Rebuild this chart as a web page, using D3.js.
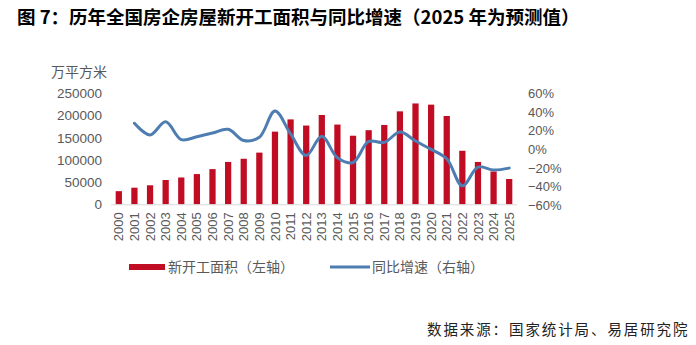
<!DOCTYPE html>
<html><head><meta charset="utf-8">
<script src="https://cdn.jsdelivr.net/npm/d3@7/dist/d3.min.js"></script>
<style>
html,body{margin:0;padding:0;background:#fff;}
svg{display:block;}
</style></head>
<body>
<svg id="chart" width="696" height="345"></svg>
<script>
const years = ["2000","2001","2002","2003","2004","2005","2006","2007","2008","2009","2010","2011","2012","2013","2014","2015","2016","2017","2018","2019","2020","2021","2022","2023","2024","2025"];
const newStarts = [29583,37394,42801,54708,60414,68064,79253,95402,102553,116422,163647,191237,177334,201208,179592,154454,166928,178654,209342,227154,224433,198895,120587,95376,73893,57000];
const growth = [null,28,15.5,29.5,10.5,13.5,17.5,21.5,9.5,13,41,16.5,-6.5,14,-9,-14,8.5,7.5,18.5,9,0,-10,-39,-19,-22,-20];
const leftTicks = [0,50000,100000,150000,200000,250000];
const rightTicks = [-60,-40,-20,0,20,40,60];
const titleText = "图 7：历年全国房企房屋新开工面积与同比增速（2025 年为预测值）";
const unitText = "万平方米";
const legendBar = "新开工面积（左轴）";
const legendLine = "同比增速（右轴）";
const sourceText = "数据来源：国家统计局、易居研究院";

const svg = d3.select("#chart");
const barColor = "#C00D23";
const lineColor = "#4E7DB1";
const textColor = "#595959";
const numFont = "'Liberation Sans', Arial, sans-serif";
const cjkFont = "'Noto Sans CJK SC', sans-serif";

const x = d3.scaleBand().domain(years).range([111, 517]).paddingInner(0.6).paddingOuter(0.3);
const yL = d3.scaleLinear().domain([0, 250000]).range([204.3, 93.3]);
const yR = d3.scaleLinear().domain([-60, 60]).range([205.5, 93.3]);

// title
svg.append("text").attr("x", 17).attr("y", 24)
  .attr("font-family", cjkFont).attr("font-weight", 700).attr("font-size", 18.5)
  .attr("fill", "#000").text(titleText);

// unit
svg.append("text").attr("x", 51).attr("y", 77)
  .attr("font-family", cjkFont).attr("font-size", 14).attr("fill", textColor).text(unitText);

// bars
svg.append("g").selectAll("rect").data(years).join("rect")
  .attr("x", d => x(d)).attr("width", x.bandwidth())
  .attr("y", (d, i) => yL(newStarts[i]))
  .attr("height", (d, i) => yL(0) - yL(newStarts[i]))
  .attr("fill", barColor);

// x axis
const xAxis = svg.append("g").attr("transform", `translate(0,${yL(0)})`)
  .call(d3.axisBottom(x).tickSize(0).tickPadding(0));
xAxis.select(".domain").attr("stroke", "#D9D9D9").attr("stroke-width", 1)
  .attr("d", `M${x.range()[0]},0.5H${x.range()[1]}`);
xAxis.selectAll(".tick text")
  .attr("font-family", numFont).attr("font-size", 13).attr("fill", textColor)
  .attr("transform", "rotate(-90)").attr("text-anchor", "end")
  .attr("x", -8).attr("y", 0).attr("dy", "0.35em");

// left axis
const lAxis = svg.append("g").attr("transform", "translate(102,0)")
  .call(d3.axisLeft(yL).tickValues(leftTicks).tickSize(0).tickPadding(0).tickFormat(d3.format("d")));
lAxis.select(".domain").remove();
lAxis.selectAll(".tick text").attr("font-family", numFont).attr("font-size", 13.5).attr("fill", textColor);

// right axis
const rAxis = svg.append("g").attr("transform", "translate(528,0)")
  .call(d3.axisRight(yR).tickValues(rightTicks).tickSize(0).tickPadding(0).tickFormat(d => (d < 0 ? "\u2212" + Math.abs(d) : d) + "%"));
rAxis.select(".domain").remove();
rAxis.selectAll(".tick text").attr("font-family", numFont).attr("font-size", 13).attr("fill", textColor);

// line
const pts = years.map((y, i) => [y, growth[i]]).filter(d => d[1] !== null);
const line = d3.line().x(d => x(d[0]) + x.bandwidth() / 2).y(d => yR(d[1])).curve(d3.curveCatmullRom.alpha(0.5));
svg.append("path").datum(pts).attr("d", line).attr("fill", "none")
  .attr("stroke", lineColor).attr("stroke-width", 3).attr("stroke-linejoin", "round").attr("stroke-linecap", "round");

// legend
const lg = svg.append("g");
lg.append("rect").attr("x", 129).attr("y", 264).attr("width", 36).attr("height", 6).attr("fill", barColor);
lg.append("text").attr("x", 168).attr("y", 272).attr("font-family", cjkFont).attr("font-size", 14)
  .attr("fill", textColor).text(legendBar);
lg.append("line").attr("x1", 330).attr("x2", 370).attr("y1", 267).attr("y2", 267)
  .attr("stroke", lineColor).attr("stroke-width", 3);
lg.append("text").attr("x", 372).attr("y", 272).attr("font-family", cjkFont).attr("font-size", 14)
  .attr("fill", textColor).text(legendLine);

// source
svg.append("text").attr("x", 427).attr("y", 335).attr("font-family", cjkFont).attr("font-size", 14.5)
  .attr("letter-spacing", 1.9).attr("fill", "#222").text(sourceText);
</script>
</body></html>
